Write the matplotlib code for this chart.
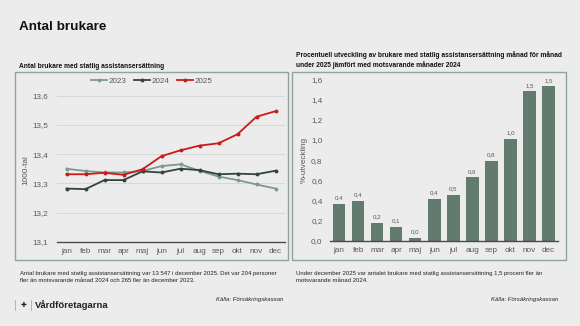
import matplotlib
matplotlib.use("Agg")
import matplotlib.pyplot as plt
from matplotlib.patches import Rectangle
import numpy as np

months = ["jan", "feb", "mar", "apr", "maj", "jun", "jul", "aug", "sep", "okt", "nov", "dec"]

# Antal brukare, tusental
users_2023 = [13.350, 13.342, 13.337, 13.337, 13.342, 13.359, 13.365, 13.343, 13.323, 13.311, 13.296, 13.282]
users_2024 = [13.282, 13.280, 13.311, 13.311, 13.341, 13.337, 13.350, 13.345, 13.331, 13.333, 13.331, 13.343]
users_2025 = [13.331, 13.331, 13.336, 13.329, 13.348, 13.393, 13.413, 13.429, 13.437, 13.468, 13.528, 13.547]

# Procentuell utveckling 2025 jämfört med 2024
pct_change = [0.37, 0.40, 0.18, 0.14, 0.03, 0.42, 0.46, 0.63, 0.79, 1.01, 1.48, 1.53]

left_ticks = [13.1, 13.2, 13.3, 13.4, 13.5, 13.6]
right_ticks = [0.0, 0.2, 0.4, 0.6, 0.8, 1.0, 1.2, 1.4, 1.6]

BG = "#ececec"
FRAME = "#8ea498"
C2023 = "#7e9a8c"
C2024 = "#34443c"
C2025 = "#cc1a1a"
BAR = "#637a6e"
TXT = "#595959"

W, H = 580, 326
fig = plt.figure(figsize=(W / 100, H / 100), dpi=100, facecolor=BG)
plt.rcParams["font.family"] = ["Liberation Sans", "DejaVu Sans"]


def fx(x):
    return x / W


def fy(y):
    return 1 - y / H


def axes_px(x0, x1, y_top, y_bot):
    return fig.add_axes([fx(x0), fy(y_bot), fx(x1) - fx(x0), fy(y_top) - fy(y_bot)])


# Panel frames
for (x0, x1) in [(15, 288), (292, 566)]:
    fig.add_artist(Rectangle((fx(x0), fy(260)), fx(x1) - fx(x0), fy(72) - fy(260),
                             transform=fig.transFigure, fill=False,
                             edgecolor=FRAME, linewidth=1.0))

# Titles
fig.text(fx(19), fy(27), "Antal brukare", fontsize=9.7, fontweight="bold",
         color="#111111", va="center", ha="left")
fig.text(fx(19), fy(66), "Antal brukare med statlig assistansersättning", fontsize=4.75,
         fontweight="bold", color="#111111", va="center", ha="left")
fig.text(fx(296), fy(60),
         "Procentuell utveckling av brukare med statlig assistansersättning månad för månad\n"
         "under 2025 jämfört med motsvarande månader 2024",
         fontsize=4.8, fontweight="bold", color="#111111", va="center", ha="left",
         linespacing=1.4)

x = np.arange(len(months))

# Left: line chart
ax1 = axes_px(57, 285, 95.7, 241.7)
ax1.set_facecolor("none")
for vals, col, lab in [(users_2023, C2023, "2023"), (users_2024, C2024, "2024"),
                       (users_2025, C2025, "2025")]:
    ax1.plot(x, vals, color=col, linewidth=1.3, marker="o", markersize=1.8, label=lab)
ax1.set_xlim(-0.5, 11.5)
ax1.set_ylim(13.1, 13.6)
ax1.set_yticks(left_ticks)
ax1.set_yticklabels([f"{v:.1f}".replace(".", ",") for v in left_ticks])
ax1.set_xticks(x)
ax1.set_xticklabels(months)
ax1.grid(axis="y", color="#d4d4d4", linewidth=0.6)
ax1.set_axisbelow(True)
for s in ["left", "right", "top"]:
    ax1.spines[s].set_visible(False)
ax1.spines["bottom"].set_color("#4a4a4a")
ax1.spines["bottom"].set_linewidth(1.0)
ax1.tick_params(axis="both", length=0, labelsize=5.9, colors=TXT)
ax1.tick_params(axis="y", pad=6)
ax1.tick_params(axis="x", pad=4.5)
fig.text(fx(26), fy(170), "1000-tal", rotation=90, fontsize=5.9, color=TXT,
         ha="center", va="center")
fig.legend(*ax1.get_legend_handles_labels(), loc="center",
           bbox_to_anchor=(fx(151.5), fy(81.5)), ncol=3, frameon=False,
           fontsize=5.8, handlelength=2.0, handletextpad=0.2, columnspacing=0.9,
           labelcolor=TXT)

# Right: bar chart
ax2 = axes_px(329.5, 558, 79.3, 241)
ax2.set_facecolor("none")
bars = ax2.bar(x, pct_change, width=0.66, color=BAR)
for xi, v in zip(x, pct_change):
    ax2.text(xi, v + 0.035, f"{v:.1f}".replace(".", ","), ha="center", va="bottom",
             fontsize=4.4, color=TXT)
ax2.set_xlim(-0.5, 11.5)
ax2.set_ylim(0, 1.6)
ax2.set_yticks(right_ticks)
ax2.set_yticklabels([f"{v:.1f}".replace(".", ",") for v in right_ticks])
ax2.set_xticks(x)
ax2.set_xticklabels(months)
for s in ["left", "right", "top"]:
    ax2.spines[s].set_visible(False)
ax2.spines["bottom"].set_color("#4a4a4a")
ax2.spines["bottom"].set_linewidth(1.0)
ax2.tick_params(axis="both", length=0, labelsize=5.9, colors=TXT)
ax2.tick_params(axis="y", pad=5)
ax2.tick_params(axis="x", pad=4)
fig.text(fx(304), fy(160), "%-utveckling", rotation=90, fontsize=5.9, color=TXT,
         ha="center", va="center")

# Notes and source
fig.text(fx(20), fy(277),
         "Antal brukare med statlig assistansersättning var 13 547 i december 2025. Det var 204 personer\n"
         "fler än motsvarande månad 2024 och 265 fler än december 2023.",
         fontsize=4.3, color="#222222", ha="left", va="center", linespacing=1.55)
fig.text(fx(296), fy(277),
         "Under december 2025 var antalet brukare med statlig assistansersättning 1,5 procent fler än\n"
         "motsvarande månad 2024.",
         fontsize=4.3, color="#222222", ha="left", va="center", linespacing=1.55)
fig.text(fx(283), fy(299.5), "Källa: Försäkringskassan", fontsize=4.3, style="italic",
         color="#222222", ha="right", va="center")
fig.text(fx(558), fy(299.5), "Källa: Försäkringskassan", fontsize=4.3, style="italic",
         color="#222222", ha="right", va="center")

# Footer brand
fig.add_artist(plt.Line2D([fx(15), fx(15)], [fy(300), fy(310)], color="#aaaaaa",
                          linewidth=0.6, transform=fig.transFigure))
fig.text(fx(23.5), fy(305), "✚", fontsize=5, color="#222222", ha="center", va="center",
         family=["DejaVu Sans"])
fig.add_artist(plt.Line2D([fx(31), fx(31)], [fy(300), fy(310)], color="#aaaaaa",
                          linewidth=0.6, transform=fig.transFigure))
fig.text(fx(35), fy(305), "Vårdföretagarna", fontsize=6.8, fontweight="bold",
         color="#222222", ha="left", va="center")

fig.savefig("out.png", dpi=100, facecolor=BG)
